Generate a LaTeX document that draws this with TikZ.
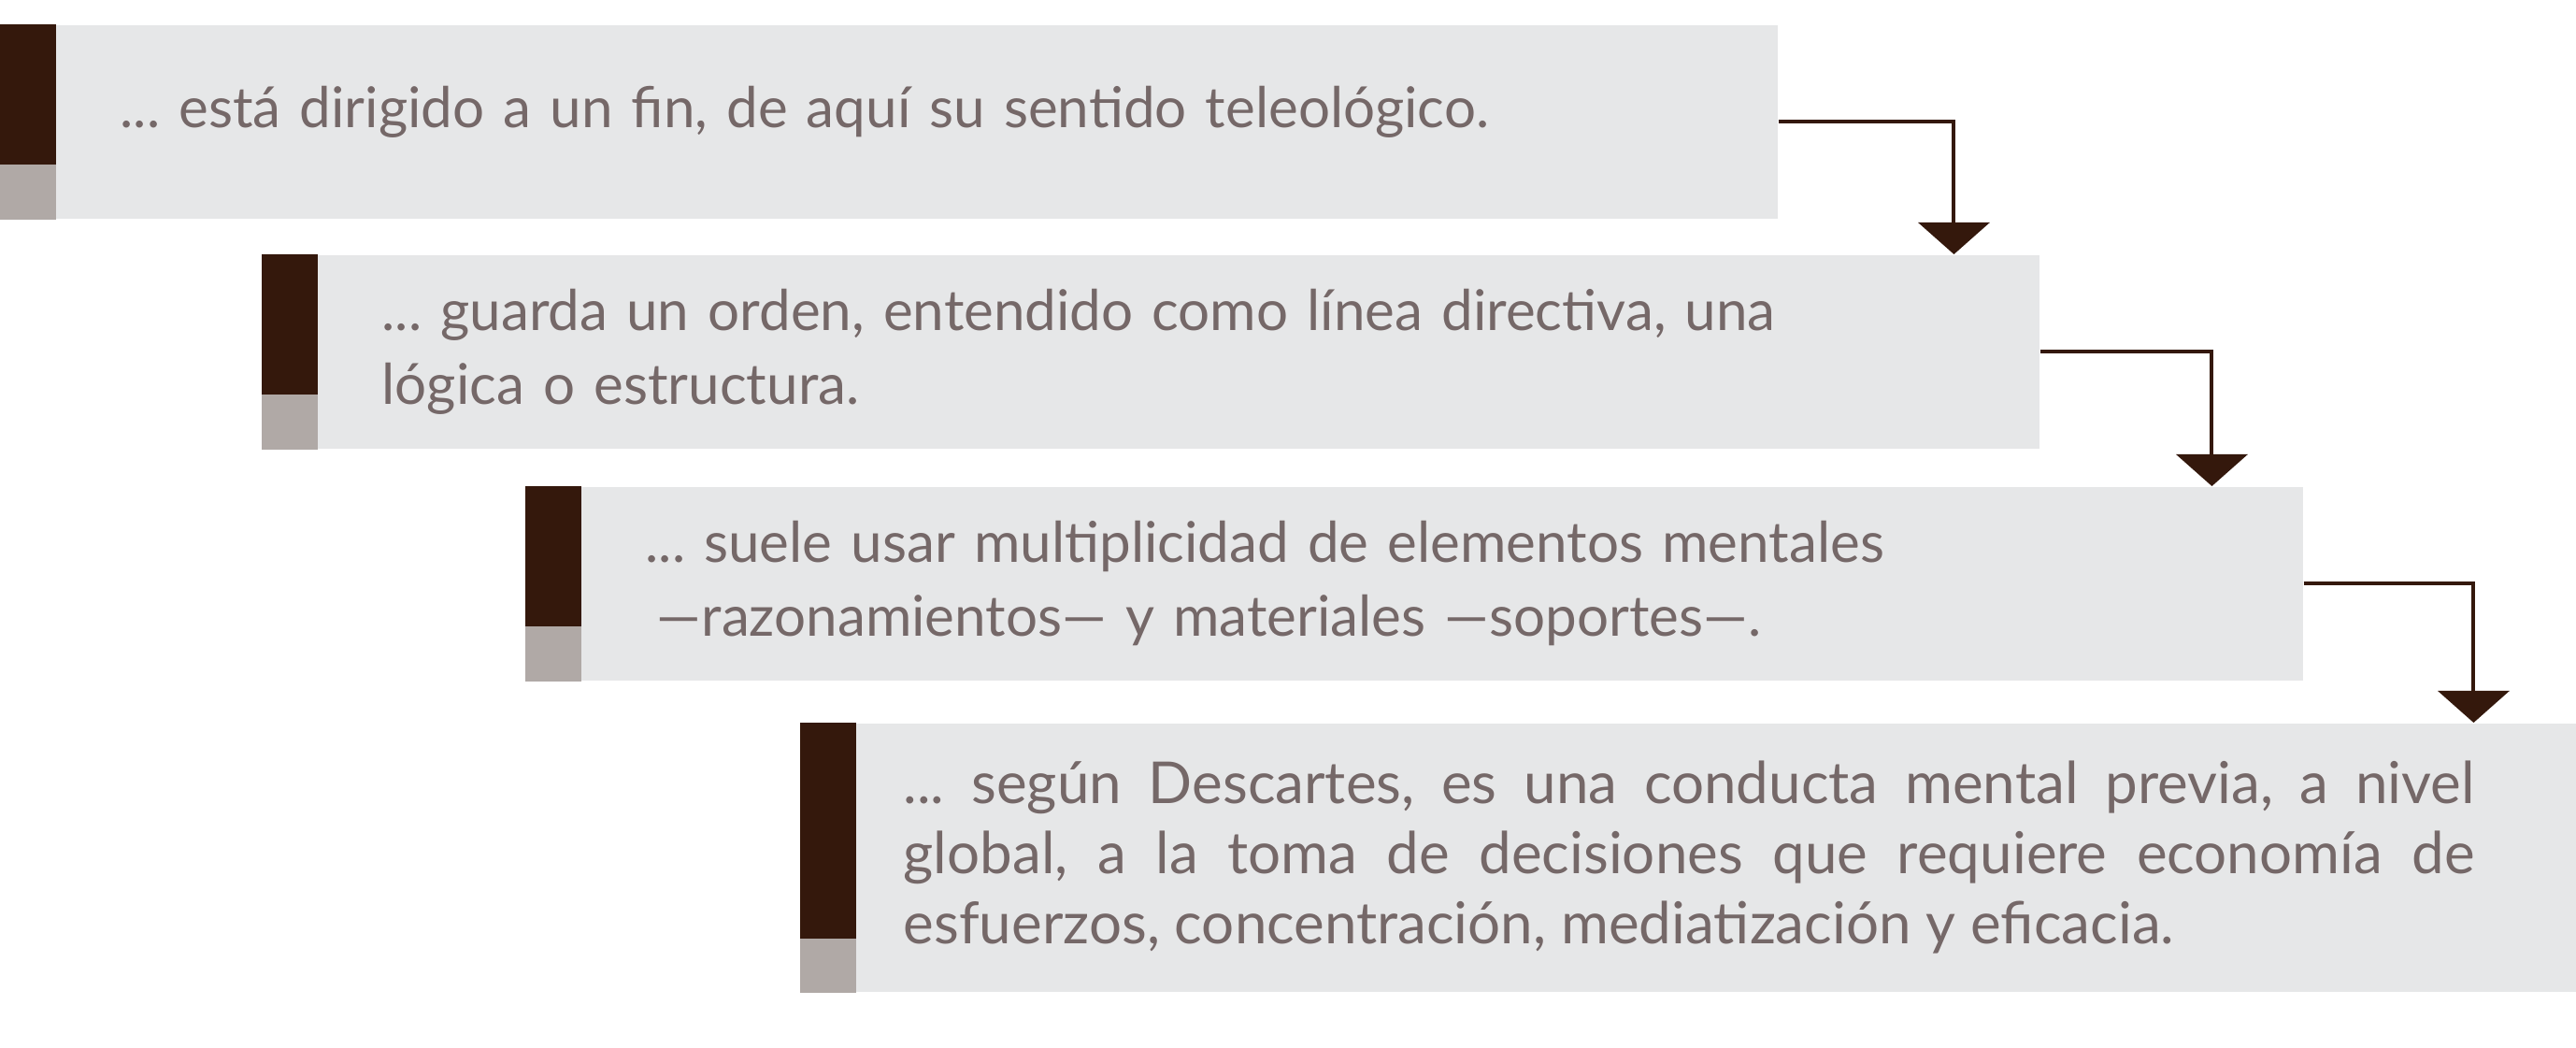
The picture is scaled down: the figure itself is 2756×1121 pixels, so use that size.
\documentclass[tikz,border=0pt]{standalone}
\usepackage{fontspec}
\setmainfont{Lato}
\usepackage{tikz}
\usetikzlibrary{arrows.meta,calc}
\definecolor{fondopaso}{RGB}{230,231,232}
\definecolor{barraoscura}{RGB}{52,24,12}
\definecolor{barraclara}{RGB}{176,169,166}
\definecolor{textopaso}{RGB}{117,104,104}
\frenchspacing

\begin{document}
\begin{tikzpicture}[x=0.01cm,y=-0.01cm,
    paso/.style={rectangle,fill=fondopaso,anchor=north west,inner ysep=0pt,
      minimum height=2.07cm,inner xsep=1.28cm,text width=16.44cm,align=left,
      text=textopaso,font=\fontsize{17.1}{22.5}\selectfont},
    flecha/.style={draw=barraoscura,line width=0.04cm,
      -{Triangle[width=0.76cm,length=0.34cm]}}]
    \useasboundingbox (0,0) rectangle (2756,1121); %tamano de la figura
    \node[paso,text depth=0.31cm] (p1) at (0,26) {... está dirigido a un fin, de aquí su sentido teleológico.};
    \node[paso] (p2) at (280,272) {... guarda un orden, entendido como línea directiva, una\\lógica o estructura.};
    \node[paso] (p3) at (562,520) {... suele usar multiplicidad de elementos mentales\\\hspace*{0.12cm}—razonamientos— y materiales —soportes—.};
    \node[paso,minimum height=2.87cm,inner xsep=1.10cm,text width=16.8cm,align=justify,
      font=\fontsize{17.6}{21.3}\selectfont] (p4) at (856,773)
      {... según Descartes, es una conducta mental previa, a nivel\linebreak
       global, a la toma de decisiones que requiere economía de\linebreak
       esfuerzos, concentración, mediatización y eficacia.};
    % barras de color a la izquierda
    \fill[barraoscura] (p1.north west) rectangle ([xshift=0.6cm,yshift=0.58cm]p1.south west);
    \fill[barraclara] (p1.south west) rectangle ([xshift=0.6cm,yshift=0.58cm]p1.south west);
    \fill[barraoscura] (p2.north west) rectangle ([xshift=0.6cm,yshift=0.58cm]p2.south west);
    \fill[barraclara] (p2.south west) rectangle ([xshift=0.6cm,yshift=0.58cm]p2.south west);
    \fill[barraoscura] (p3.north west) rectangle ([xshift=0.6cm,yshift=0.58cm]p3.south west);
    \fill[barraclara] (p3.south west) rectangle ([xshift=0.6cm,yshift=0.58cm]p3.south west);
    \fill[barraoscura] (p4.north west) rectangle ([xshift=0.6cm,yshift=0.58cm]p4.south west);
    \fill[barraclara] (p4.south west) rectangle ([xshift=0.6cm,yshift=0.58cm]p4.south west);
    % flechas
    \draw[flecha] (p1.east) -| ([xshift=-0.92cm]p2.north east);
    \draw[flecha] (p2.east) -| ([xshift=-0.98cm]p3.north east);
    \draw[flecha] (p3.east) -| ([xshift=-1.12cm]p4.north east);
\end{tikzpicture}
\end{document}
